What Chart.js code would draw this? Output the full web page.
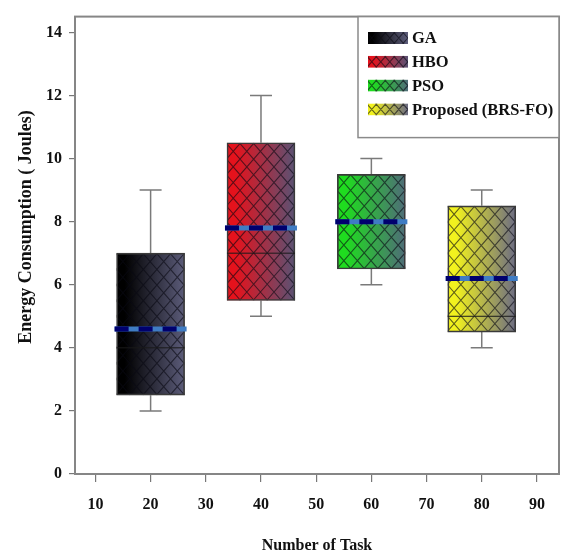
<!DOCTYPE html>
<html>
<head>
<meta charset="utf-8">
<script src="https://cdn.jsdelivr.net/npm/chart.js@4"></script>
<style>
html,body{margin:0;padding:0;background:#fff;}
#wrap{width:562px;height:557px;}
</style>
</head>
<body>
<div id="wrap"><canvas id="c" width="562" height="557"></canvas></div>
<script>
const categories = ['GA', 'HBO', 'PSO', 'Proposed (BRS-FO)'];
const positions = [20, 40, 60, 80];
const whiskerLow = [2, 5, 6, 4];
const q1 = [2.5, 5.5, 6.5, 4.5];
const median = [4, 7, 8, 5];
const q3 = [7, 10.5, 9.5, 8.5];
const whiskerHigh = [9, 12, 10, 9];
const mean = [4.6, 7.8, 8, 6.2];
const xTicks = [10, 20, 30, 40, 50, 60, 70, 80, 90];
const yTicks = [0, 2, 4, 6, 8, 10, 12, 14];
const xTitle = 'Number of Task';
const yTitle = 'Energy Consumption ( Joules)';

const boxColors = ['#000000', '#e5121c', '#1fdc1f', '#f2f21e'];
const endColors = ['#5c5c7a', '#5a5274', '#4f6c78', '#6c6c84'];
const FONT = '"Liberation Serif", "Times New Roman", serif';

function paintBox(ctx, x, y, w, h, i, p, k) {
  ctx.save();
  ctx.beginPath();
  ctx.rect(x, y, w, h);
  ctx.clip();
  const g = ctx.createLinearGradient(x, 0, x + w, 0);
  g.addColorStop(0, boxColors[i]);
  g.addColorStop(0.12, boxColors[i]);
  g.addColorStop(1, endColors[i]);
  ctx.fillStyle = g;
  ctx.fillRect(x, y, w, h);
  ctx.strokeStyle = 'rgba(10,10,20,0.62)';
  ctx.lineWidth = 1.1;
  const dx = h / k;
  ctx.beginPath();
  for (let o = x - dx - p; o < x + w + p; o += p) {
    ctx.moveTo(o, y); ctx.lineTo(o + dx, y + h);
    ctx.moveTo(o, y + h); ctx.lineTo(o + dx, y);
  }
  ctx.stroke();
  ctx.restore();
}

const boxPlugin = {
  id: 'boxPlugin',
  beforeDatasetsDraw(chart) {
    const ctx = chart.ctx, ys = chart.scales.y;
    categories.forEach((c, i) => {
      const el = chart.getDatasetMeta(i).data[0];
      const left = el.x - el.width / 2;
      const top = Math.min(el.y, el.base), bottom = Math.max(el.y, el.base);
      const yHi = ys.getPixelForValue(whiskerHigh[i]);
      const yLo = ys.getPixelForValue(whiskerLow[i]);
      ctx.save();
      ctx.strokeStyle = '#7a7a7a';
      ctx.lineWidth = 1.5;
      ctx.beginPath();
      ctx.moveTo(el.x, yHi); ctx.lineTo(el.x, top);
      ctx.moveTo(el.x, bottom); ctx.lineTo(el.x, yLo);
      ctx.moveTo(el.x - 11, yHi); ctx.lineTo(el.x + 11, yHi);
      ctx.moveTo(el.x - 11, yLo); ctx.lineTo(el.x + 11, yLo);
      ctx.stroke();
      ctx.restore();
      paintBox(ctx, left, top, el.width, bottom - top, i, 13.6, 1.15);
    });
  },
  afterDatasetsDraw(chart) {
    const ctx = chart.ctx, ys = chart.scales.y;
    categories.forEach((c, i) => {
      const el = chart.getDatasetMeta(i).data[0];
      const left = el.x - el.width / 2, right = el.x + el.width / 2;
      const ym = ys.getPixelForValue(median[i]);
      ctx.save();
      ctx.strokeStyle = '#1a1a1a';
      ctx.lineWidth = 1;
      ctx.beginPath();
      ctx.moveTo(left, ym); ctx.lineTo(right, ym);
      ctx.stroke();
      const ya = ys.getPixelForValue(mean[i]);
      ctx.lineWidth = 5;
      ctx.strokeStyle = '#3f7cc4';
      ctx.beginPath();
      ctx.moveTo(left - 2, ya); ctx.lineTo(right + 2, ya);
      ctx.stroke();
      ctx.strokeStyle = '#00006e';
      ctx.setLineDash([14, 10]);
      ctx.beginPath();
      ctx.moveTo(left - 2, ya); ctx.lineTo(right + 2, ya);
      ctx.stroke();
      ctx.restore();
    });
  },
  afterDraw(chart) {
    const ctx = chart.ctx, a = chart.chartArea;
    ctx.save();
    ctx.strokeStyle = '#868686';
    ctx.lineWidth = 2;
    ctx.strokeRect(a.left, a.top, a.right - a.left, a.bottom - a.top);
    // legend
    const lx = 358, ly = a.top, lw = a.right - 358, lh = 121;
    ctx.fillStyle = '#fff';
    ctx.fillRect(lx, ly, lw, lh);
    ctx.strokeStyle = '#8a8a8a';
    ctx.lineWidth = 1.5;
    ctx.strokeRect(lx, ly, lw, lh);
    ctx.font = 'bold 16.5px ' + FONT;
    ctx.textBaseline = 'middle';
    ctx.textAlign = 'left';
    categories.forEach((c, i) => {
      const cy = 38 + i * 23.8;
      paintBox(ctx, 368, cy - 6, 40, 12, i, 9, 1.15);
      ctx.fillStyle = '#111';
      ctx.fillText(c, 412, cy + 1);
    });
    // axis titles
    ctx.fillStyle = '#111';
    ctx.font = 'bold 16px ' + FONT;
    ctx.textAlign = 'center';
    ctx.fillText(xTitle, (a.left + a.right) / 2, 546);
    ctx.translate(26, 227);
    ctx.rotate(-Math.PI / 2);
    ctx.font = 'bold 18px ' + FONT;
    ctx.fillText(yTitle, 0, 0);
    ctx.restore();
  }
};

new Chart(document.getElementById('c'), {
  type: 'bar',
  data: {
    datasets: categories.map((c, i) => ({
      label: c,
      data: [{ x: positions[i], y: [q1[i], q3[i]] }],
      backgroundColor: 'rgba(0,0,0,0)',
      borderColor: '#3a3a3a',
      borderWidth: 1,
      borderSkipped: false,
      barThickness: 68,
      grouped: false
    }))
  },
  options: {
    responsive: false,
    animation: false,
    layout: { padding: { top: 12, right: 3, left: 0, bottom: 0 } },
    plugins: { legend: { display: false }, tooltip: { enabled: false } },
    scales: {
      x: {
        type: 'linear',
        offset: false,
        min: 6.3, max: 94,
        afterBuildTicks: s => { s.ticks = xTicks.map(v => ({ value: v })); },
        afterFit: s => { s.height = 83; },
        grid: { offset: false, drawOnChartArea: false, drawTicks: true, tickLength: 8, color: '#777', lineWidth: 1.2 },
        border: { display: true, color: '#868686', width: 2 },
        ticks: { color: '#111', padding: 13, font: { family: FONT, size: 16, weight: 'bold' }, maxRotation: 0 }
      },
      y: {
        type: 'linear',
        min: 0, max: 14.5,
        afterBuildTicks: s => { s.ticks = yTicks.map(v => ({ value: v })); },
        afterFit: s => { s.width = 75; },
        grid: { drawOnChartArea: false, drawTicks: true, tickLength: 6, color: '#777', lineWidth: 1.2 },
        border: { display: true, color: '#868686', width: 2 },
        ticks: { color: '#111', padding: 7, font: { family: FONT, size: 16, weight: 'bold' } }
      }
    }
  },
  plugins: [boxPlugin]
});
</script>
</body>
</html>
